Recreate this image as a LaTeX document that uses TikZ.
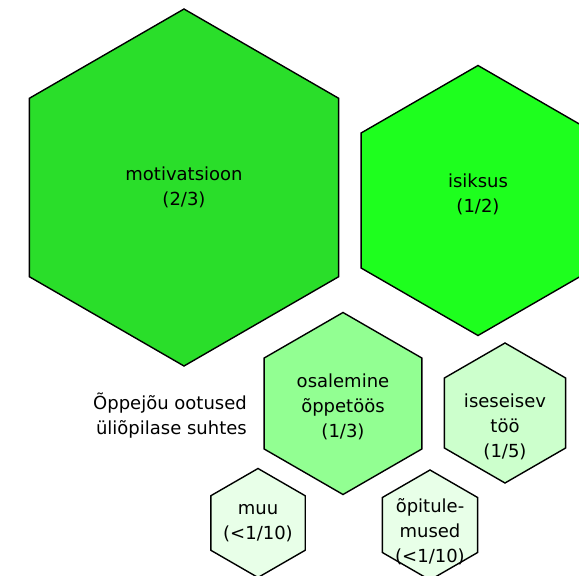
\documentclass[tikz,border=0pt]{standalone}
\usepackage{fontspec}
\setmainfont{DejaVu Sans}
\usetikzlibrary{shapes.geometric}
\definecolor{hexA}{RGB}{42,222,42}
\definecolor{hexB}{RGB}{30,255,30}
\definecolor{hexC}{RGB}{146,255,146}
\definecolor{hexD}{RGB}{204,255,204}
\definecolor{hexE}{RGB}{232,255,232}
\begin{document}
\begin{tikzpicture}[x=1pt, y=-1pt]
                % hexagons, sizes = circumcircle diameter
                \tikzstyle{hexa}=[regular polygon, regular polygon sides=6, regular polygon rotate=30, draw=black, line width=1.4pt, inner sep=0pt]
                \tikzstyle{lbl}=[align=center, font=\fontsize{18}{25}\selectfont, inner sep=0pt]
                \useasboundingbox (0, 0) rectangle (579, 576);

                \node[hexa, fill=hexA, minimum size=357pt] (motiv) at (184, 187.5) {};
                \node[lbl] (motivT) at (motiv.center) {motivatsioon\\(2/3)};

                \node[hexa, fill=hexB, minimum size=270pt] (isik) at (478, 200.5) {};
                \node[lbl] (isikT) at (478, 194) {isiksus\\(1/2)};

                \node[hexa, fill=hexC, minimum size=182pt] (osal) at (343, 403.5) {};
                \node[lbl] (osalT) at (343, 407) {osalemine\\õppetöös\\(1/3)};

                \node[hexa, fill=hexD, minimum size=140pt] (isese) at (505, 413) {};
                \node[lbl] (iseseT) at (505, 427) {iseseisev\\töö\\(1/5)};

                \node[hexa, fill=hexE, minimum size=109pt] (muu) at (258, 523) {};
                \node[lbl] (muuT) at (258, 523) {muu\\(<1/10)};

                \node[hexa, fill=hexE, minimum size=110pt] (opit) at (430, 525) {};
                \node[lbl] (opitT) at (430, 532) {õpitule-\\mused\\(<1/10)};

                \node[lbl, align=right, anchor=east] (ootus) at (247, 416) {Õppejõu ootused\\üliõpilase suhtes};
\end{tikzpicture}
\end{document}
